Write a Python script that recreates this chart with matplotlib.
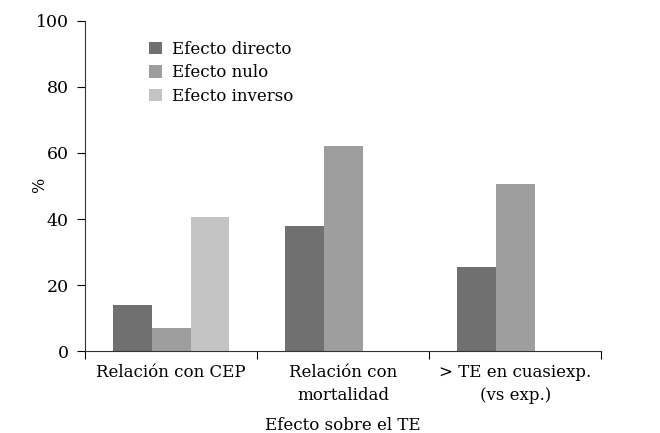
import numpy as np
import matplotlib
matplotlib.use("Agg")
import matplotlib.pyplot as plt

categorias = ["Relación con CEP", "Relación con\nmortalidad", "> TE en cuasiexp.\n(vs exp.)"]
series = ["Efecto directo", "Efecto nulo", "Efecto inverso"]
directo = [14, 38, 25.5]
nulo = [7, 62, 50.5]
inverso = [40.5, 0, 0]
colores = ["#707070", "#9e9e9e", "#c4c4c4"]

plt.rcParams["font.family"] = ["DejaVu Serif"]

fig = plt.figure(figsize=(6.6, 4.33), dpi=100)
ax = fig.add_axes([0.129, 0.189, 0.782, 0.763])

x = np.arange(len(categorias))
ancho = 0.225
for i, (vals, nombre) in enumerate(zip([directo, nulo, inverso], series)):
    ax.bar(x + (i - 1) * ancho, vals, ancho, color=colores[i], label=nombre)

ax.set_xlim(-0.5, 2.5)
ax.set_ylim(0, 100)
ax.set_yticks([0, 20, 40, 60, 80, 100])
ax.set_xticks(x)
ax.set_xticklabels(categorias, fontsize=12, linespacing=1.45)
ax.tick_params(axis="x", length=0, pad=9)
ax.set_xticks([-0.5, 0.5, 1.5, 2.5], minor=True)
ax.tick_params(axis="x", which="minor", length=6, direction="out", width=0.8)
ax.tick_params(axis="y", length=6, direction="out", labelsize=12.5, width=0.8, pad=6)
for s in ["top", "right"]:
    ax.spines[s].set_visible(False)
for s in ["left", "bottom"]:
    ax.spines[s].set_linewidth(0.8)
    ax.spines[s].set_color("#333333")

ax.set_xlabel("Efecto sobre el TE", fontsize=12, labelpad=10)
fig.text(40 / 660, 1 - 185 / 433, "%", fontsize=11.5, rotation=90, ha="center", va="center")

ax.legend(loc="upper left", bbox_to_anchor=(0.095, 0.985), frameon=False, fontsize=12,
          handlelength=0.75, handleheight=0.75, handletextpad=0.6, labelspacing=0.4)

fig.savefig("out.png", dpi=100)
